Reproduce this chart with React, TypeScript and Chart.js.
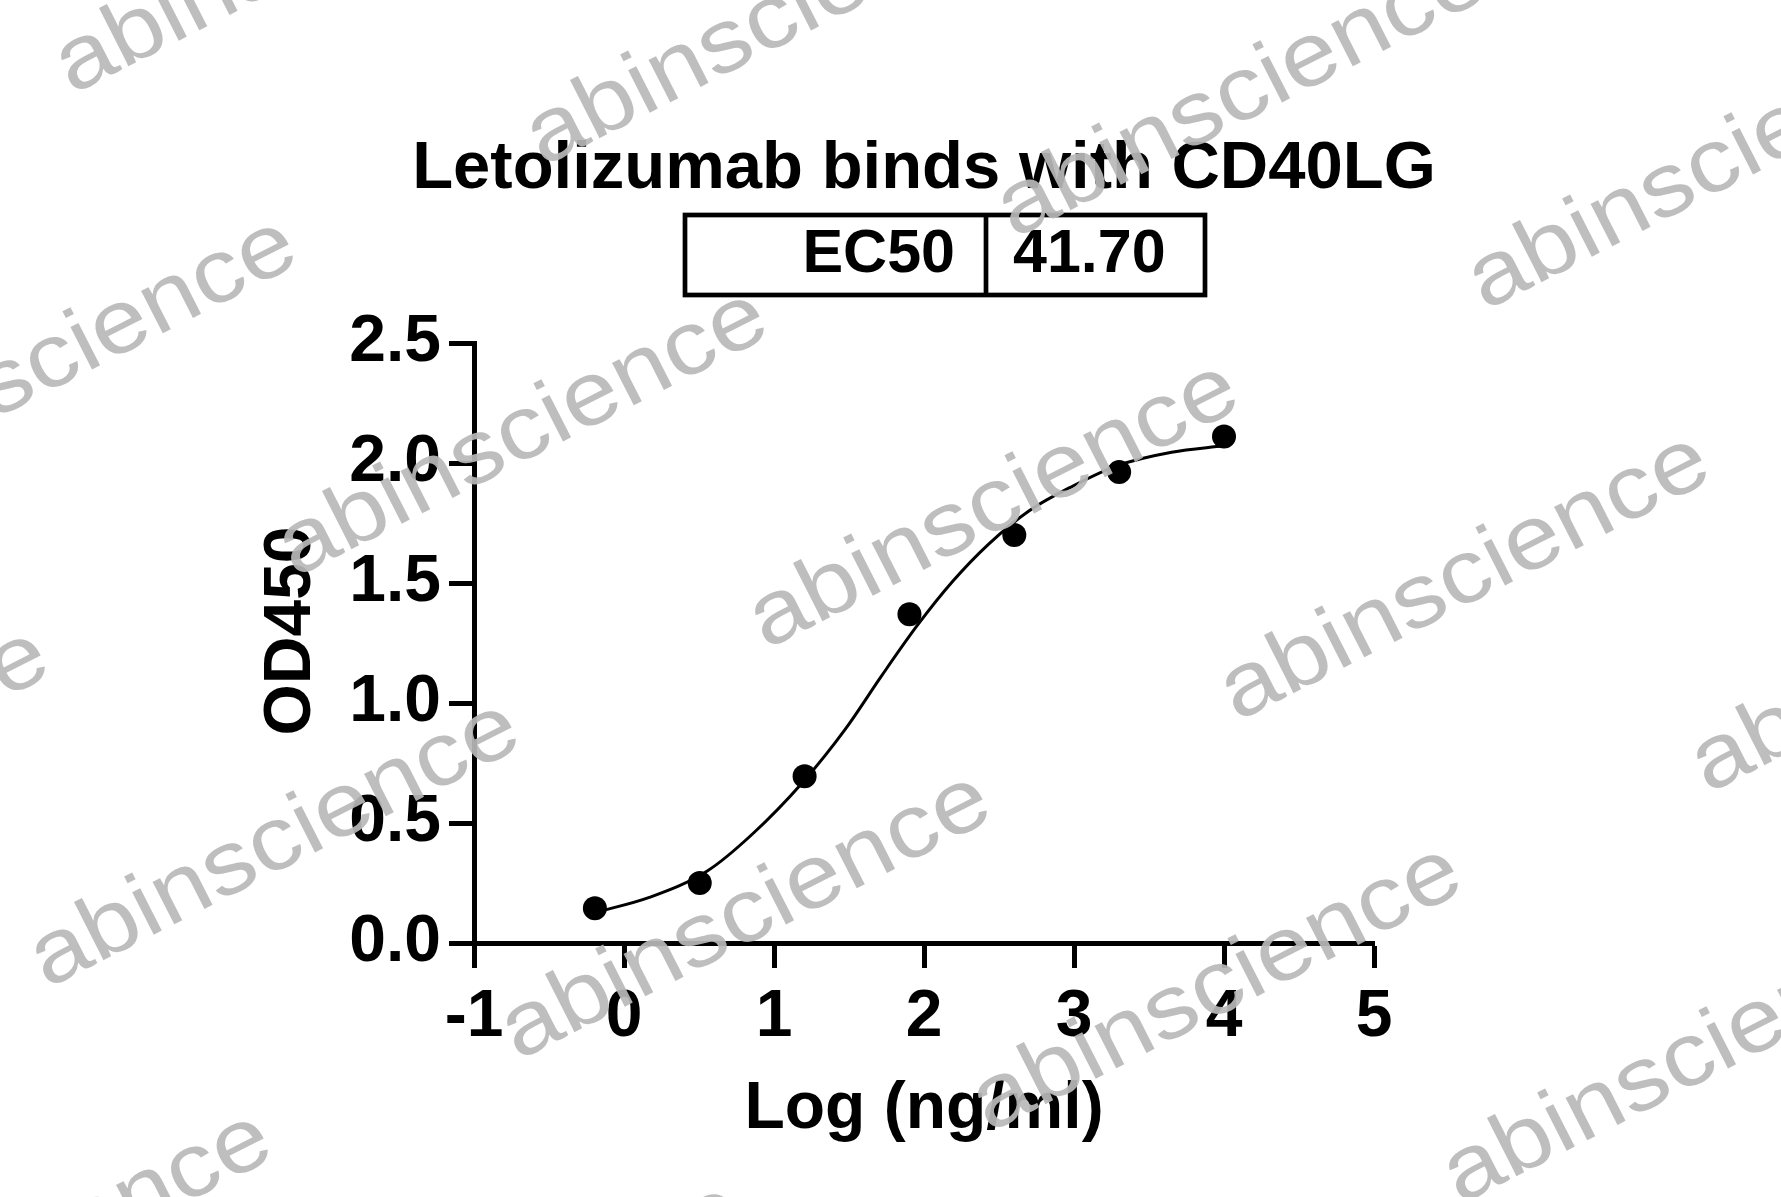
import React, { useEffect, useRef } from "react";
import { Chart, registerables } from "chart.js";

Chart.register(...registerables);

const TITLE = "Letolizumab binds with CD40LG";
const EC50_LABEL = "EC50";
const EC50_VALUE = "41.70";
const X_TITLE = "Log (ng/ml)";
const Y_TITLE = "OD450";
const WATERMARK = "abinscience";

// measured points
const logConc = [-0.194, 0.505, 1.204, 1.903, 2.602, 3.301, 4.0];
const od450 = [0.145, 0.25, 0.695, 1.37, 1.7, 1.962, 2.11];

// fitted curve
const fitX = [-0.195, 0.169, 0.555, 0.853, 1.195, 1.478, 1.716, 1.954, 2.193, 2.431, 2.699, 2.996, 3.293, 3.651, 3.999];
const fitY = [0.127, 0.19, 0.3, 0.452, 0.672, 0.893, 1.112, 1.322, 1.508, 1.662, 1.8, 1.905, 1.99, 2.045, 2.072];

const xTicks = [-1, 0, 1, 2, 3, 4, 5];
const yTicks = [0, 0.5, 1.0, 1.5, 2.0, 2.5];

const FONT = "'Liberation Sans', Arial, Helvetica, sans-serif";

const W = 1781;
const H = 1197;

const decorPlugin = {
  id: "decor",
  beforeDraw(chart: any) {
    const ctx = chart.ctx;
    ctx.save();
    ctx.fillStyle = "#ffffff";
    ctx.fillRect(0, 0, chart.width, chart.height);
    ctx.restore();
  },
  afterDraw(chart: any) {
    const ctx = chart.ctx;
    const area = chart.chartArea;
    const cx = (area.left + area.right) / 2;
    ctx.save();
    // title
    ctx.fillStyle = "#000";
    ctx.font = `bold 67px ${FONT}`;
    ctx.textAlign = "center";
    ctx.textBaseline = "alphabetic";
    ctx.fillText(TITLE, cx, 188);

    // EC50 box
    ctx.lineWidth = 4.7;
    ctx.strokeStyle = "#000";
    ctx.strokeRect(685, 215, 520, 80);
    ctx.beginPath();
    ctx.moveTo(986, 215);
    ctx.lineTo(986, 295);
    ctx.stroke();
    ctx.font = `bold 61px ${FONT}`;
    ctx.textAlign = "right";
    ctx.fillText(EC50_LABEL, 955, 272);
    ctx.textAlign = "left";
    ctx.fillText(EC50_VALUE, 1013, 272);

    // y axis title
    ctx.save();
    ctx.translate(292, 631);
    ctx.rotate(-Math.PI / 2);
    ctx.font = `bold 66px ${FONT}`;
    ctx.textAlign = "center";
    ctx.textBaseline = "middle";
    ctx.fillText(Y_TITLE, 0, 0);
    ctx.restore();
    ctx.restore();

    // watermarks
    ctx.save();
    ctx.fillStyle = "rgba(185,185,185,0.92)";
    ctx.font = `90px ${FONT}`;
    ctx.textAlign = "left";
    ctx.textBaseline = "alphabetic";
    const ox = 766, oy = 650;
    const ax = 471, ay = 72;
    const bx = -248, by = 411;
    const ang = (-27 * Math.PI) / 180;
    for (let i = -5; i <= 5; i++) {
      for (let j = -4; j <= 4; j++) {
        const x = ox + i * ax + j * bx;
        const y = oy + i * ay + j * by;
        if (x < -700 || x > W + 50 || y < -50 || y > H + 320) continue;
        ctx.save();
        ctx.translate(x, y);
        ctx.rotate(ang);
        ctx.scale(1.13, 1);
        ctx.fillText(WATERMARK, 0, 0);
        ctx.restore();
      }
    }
    ctx.restore();
  },
};

export default function App() {
  const ref = useRef<HTMLCanvasElement | null>(null);

  useEffect(() => {
    if (!ref.current) return;
    const tickFont = { family: FONT, size: 66, weight: "bold" as const };
    const chart = new Chart(ref.current, {
      type: "scatter",
      data: {
        datasets: [
          {
            label: "fit",
            data: fitX.map((x, i) => ({ x, y: fitY[i] })),
            showLine: true,
            borderColor: "#000",
            borderWidth: 3,
            pointRadius: 0,
            cubicInterpolationMode: "monotone",
            fill: false,
          },
          {
            label: "OD450",
            data: logConc.map((x, i) => ({ x, y: od450[i] })),
            showLine: false,
            backgroundColor: "#000",
            borderColor: "#000",
            borderWidth: 0,
            pointRadius: 12,
          },
        ],
      },
      options: {
        animation: false,
        responsive: false,
        devicePixelRatio: 1,
        events: [],
        layout: { padding: { left: 0, top: 343, right: W - 1374, bottom: 0 } },
        plugins: {
          legend: { display: false },
          title: { display: false },
          tooltip: { enabled: false },
        },
        scales: {
          x: {
            type: "linear",
            min: -1,
            max: 5,
            afterBuildTicks: (s: any) => {
              s.ticks = xTicks.map((v) => ({ value: v }));
            },
            afterFit: (s: any) => {
              s.height = H - 943;
            },
            ticks: {
              font: tickFont,
              color: "#000",
              padding: 10,
              callback: (v: any) => String(v),
            },
            grid: {
              drawOnChartArea: false,
              drawTicks: true,
              tickLength: 25,
              tickWidth: 5,
              tickColor: "#000",
            },
            border: { display: true, color: "#000", width: 5 },
            title: {
              display: true,
              text: X_TITLE,
              color: "#000",
              font: { family: FONT, size: 66, weight: "bold" },
              padding: { top: 0, bottom: 48 },
            },
          },
          y: {
            type: "linear",
            min: 0,
            max: 2.5,
            afterBuildTicks: (s: any) => {
              s.ticks = yTicks.map((v) => ({ value: v }));
            },
            afterFit: (s: any) => {
              s.width = 474;
            },
            ticks: {
              font: tickFont,
              color: "#000",
              padding: 8,
              callback: (v: any) => Number(v).toFixed(1),
            },
            grid: {
              drawOnChartArea: false,
              drawTicks: true,
              tickLength: 25,
              tickWidth: 5,
              tickColor: "#000",
            },
            border: { display: true, color: "#000", width: 5 },
            title: { display: false, text: Y_TITLE },
          },
        },
      },
      plugins: [decorPlugin],
    } as any);
    return () => chart.destroy();
  }, []);

  return (
    <div style={{ position: "fixed", left: 0, top: 0, width: W, height: H, background: "#fff" }}>
      <canvas ref={ref} width={W} height={H} style={{ width: W, height: H, display: "block" }} />
    </div>
  );
}
